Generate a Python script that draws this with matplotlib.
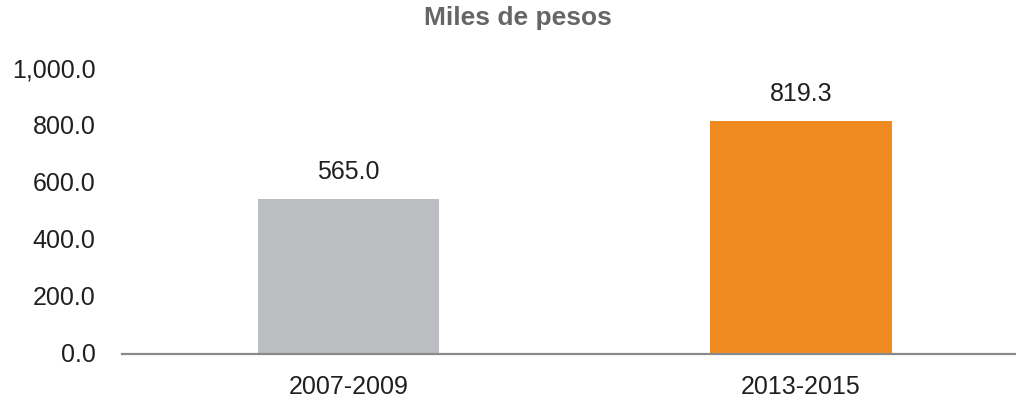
import matplotlib
matplotlib.use("Agg")
import matplotlib.pyplot as plt

categories = ["2007-2009", "2013-2015"]
bar_values = [547.0, 821.0]
value_labels = ["565.0", "819.3"]
bar_colors = ["#BCBDC1", "#EE8A1F"]
yticks = [0, 200, 400, 600, 800, 1000]
ytick_labels = ["0.0", "200.0", "400.0", "600.0", "800.0", "1,000.0"]
title = "Miles de pesos"

plt.rcParams['font.family'] = ['Liberation Sans', 'DejaVu Sans']
W, H = 1016, 404
fig = plt.figure(figsize=(W / 100, H / 100), dpi=100)
ax = fig.add_axes([122 / W, 1 - 354 / H, 1 - 122 / W, (354 - 70) / H])

x = list(range(len(categories)))
ax.bar(x, bar_values, width=0.4, color=bar_colors, zorder=2)
for xi, v, lab in zip(x, bar_values, value_labels):
    ax.annotate(lab, (xi, v), xytext=(0, 10.5), textcoords="offset points",
                ha="center", va="bottom", fontsize=18, color="#231F20")

ax.set_xlim(-0.5, 1.475)
ax.set_ylim(0, 1000)
ax.set_yticks(yticks)
ax.set_yticklabels(ytick_labels)
ax.set_xticks(x)
ax.set_xticklabels(categories)
ax.tick_params(axis="y", length=0, pad=19, labelsize=18, labelcolor="#231F20")
ax.tick_params(axis="x", length=0, pad=15, labelsize=18, labelcolor="#231F20")
for lbl in ax.get_yticklabels():
    lbl.set_y(lbl.get_position()[1])
    lbl.set_transform(lbl.get_transform() + matplotlib.transforms.ScaledTranslation(0, 2 / 100, fig.dpi_scale_trans))
for s in ["top", "right", "left"]:
    ax.spines[s].set_visible(False)
ax.spines["bottom"].set_color("#8A8A8A")
ax.spines["bottom"].set_linewidth(1.6)
ax.spines["bottom"].set_zorder(3)

fig.text(518 / W, 1 - 18.5 / H, title, ha="center", va="center",
         fontsize=19, fontweight="bold", color="#666666")

fig.savefig("out.png", dpi=100, facecolor="white")
